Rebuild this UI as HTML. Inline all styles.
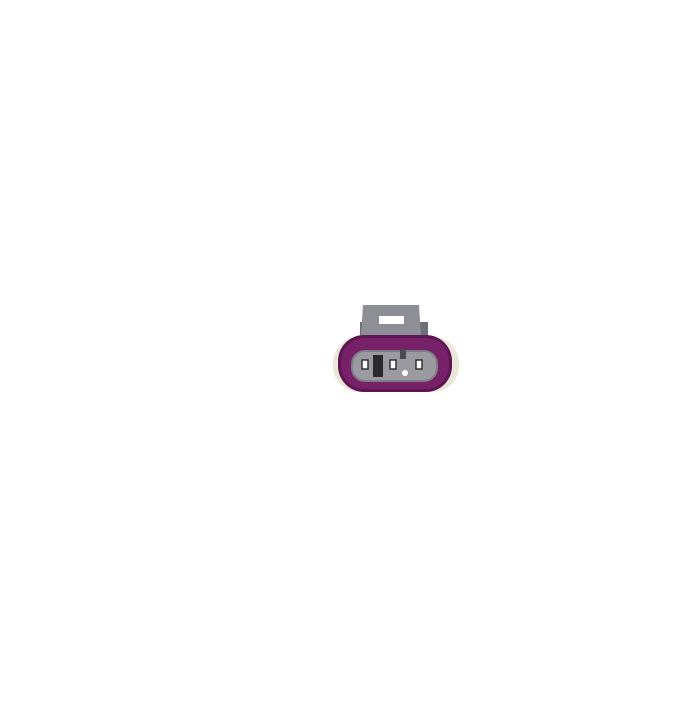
<!DOCTYPE html>
<html><head><style>body{margin:0;background:#fff}</style></head><body>
<svg width="700" height="700" viewBox="0 0 700 700" xmlns="http://www.w3.org/2000/svg">
<rect width="700" height="700" fill="#fff"/>
<rect x="333" y="337" width="126" height="55" rx="26" fill="#ece6d8"/>
<rect x="360" y="322" width="68" height="20" fill="#6e6e76"/>
<path d="M363 305 L419 305 L421 336 L361 336 Z" fill="#8e8e96"/>
<rect x="379" y="316" width="25" height="8" fill="#fff"/>
<rect x="338" y="335" width="114" height="57" rx="26" fill="#5e1553"/>
<rect x="341" y="338" width="108" height="51" rx="23" fill="#772268"/>
<rect x="351" y="350" width="87" height="32" rx="14" fill="#7e7e86"/>
<rect x="353" y="352" width="83" height="28" rx="12" fill="#9a9aa0"/>
<rect x="373" y="355" width="10" height="22" fill="#2a2a2e"/>
<rect x="400" y="349" width="6" height="10" fill="#4a4a50"/>
<circle cx="405" cy="373" r="3" fill="#fff"/>
<rect x="362" y="360" width="6" height="9" fill="#fff" stroke="#333" stroke-width="1.5"/>
<rect x="390" y="360" width="6" height="9" fill="#fff" stroke="#333" stroke-width="1.5"/>
<rect x="416" y="360" width="6" height="9" fill="#fff" stroke="#333" stroke-width="1.5"/>
</svg>
</body></html>
